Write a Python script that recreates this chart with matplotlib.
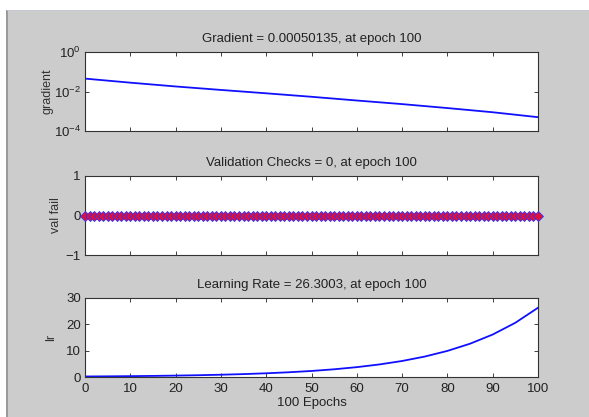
import matplotlib
matplotlib.use("Agg")
import matplotlib.pyplot as plt
from matplotlib.patches import Rectangle
from matplotlib.ticker import FixedLocator, NullLocator

plt.rcParams['font.family'] = ['Liberation Sans', 'DejaVu Sans']

# ---- data ----
grad_epochs = [0, 10, 20, 30, 40, 50, 60, 70, 80, 90, 100]
grad_values = [0.045, 0.028, 0.018, 0.012, 0.0081, 0.0054, 0.0035, 0.0023, 0.00145, 0.00089, 0.00050135]

val_epochs = [0, 1, 2, 3, 4, 5, 6, 7, 8, 9, 10, 11, 12, 13, 14, 15, 16, 17, 18, 19, 20,
              21, 22, 23, 24, 25, 26, 27, 28, 29, 30, 31, 32, 33, 34, 35, 36, 37, 38, 39, 40,
              41, 42, 43, 44, 45, 46, 47, 48, 49, 50, 51, 52, 53, 54, 55, 56, 57, 58, 59, 60,
              61, 62, 63, 64, 65, 66, 67, 68, 69, 70, 71, 72, 73, 74, 75, 76, 77, 78, 79, 80,
              81, 82, 83, 84, 85, 86, 87, 88, 89, 90, 91, 92, 93, 94, 95, 96, 97, 98, 99, 100]
val_fail = [0, 0, 0, 0, 0, 0, 0, 0, 0, 0, 0, 0, 0, 0, 0, 0, 0, 0, 0, 0, 0,
            0, 0, 0, 0, 0, 0, 0, 0, 0, 0, 0, 0, 0, 0, 0, 0, 0, 0, 0, 0,
            0, 0, 0, 0, 0, 0, 0, 0, 0, 0, 0, 0, 0, 0, 0, 0, 0, 0, 0, 0,
            0, 0, 0, 0, 0, 0, 0, 0, 0, 0, 0, 0, 0, 0, 0, 0, 0, 0, 0, 0,
            0, 0, 0, 0, 0, 0, 0, 0, 0, 0, 0, 0, 0, 0, 0, 0, 0, 0, 0, 0]

lr_epochs = [0, 5, 10, 15, 20, 25, 30, 35, 40, 45, 50, 55, 60, 65, 70, 75, 80, 85, 90, 95, 100]
lr_values = [0.20, 0.255, 0.326, 0.416, 0.531, 0.677, 0.864, 1.10, 1.41, 1.80, 2.29,
             2.93, 3.74, 4.77, 6.08, 7.76, 9.91, 12.64, 16.13, 20.59, 26.3003]

x_ticks = [0, 10, 20, 30, 40, 50, 60, 70, 80, 90, 100]

titles = ["Gradient = 0.00050135, at epoch 100",
          "Validation Checks = 0, at epoch 100",
          "Learning Rate = 26.3003, at epoch 100"]
ylabels = ["gradient", "val fail", "lr"]
xlabel = "100 Epochs"

# ---- figure ----
W, H = 589, 417
fig = plt.figure(figsize=(W / 100, H / 100), dpi=100)
fig.patch.set_facecolor("white")
fig.patches.append(Rectangle((7 / W, 0), 1 - 7 / W, 1 - 10 / H, transform=fig.transFigure,
                             facecolor="#cccccc", edgecolor="none", zorder=-10))
fig.patches.append(Rectangle((6 / W, 0), 2 / W, 1 - 10 / H, transform=fig.transFigure,
                             facecolor="#9a9a9a", edgecolor="none", zorder=-9))
fig.patches.append(Rectangle((7 / W, 1 - 11 / H), 1 - 7 / W, 1.5 / H, transform=fig.transFigure,
                             facecolor="#c4c8d4", edgecolor="none", zorder=-9))

left = 85 / W
width = 453 / W
height = 79 / H
bottoms = [1 - 131 / H, 1 - 255 / H, 1 - 377 / H]
axes = [fig.add_axes([left, b, width, height]) for b in bottoms]
ylabel_x = [(53 - 85) / 453, (62 - 85) / 453, (57 - 85) / 453]

fs = 9.5
for ax, t, yl, lx in zip(axes, titles, ylabels, ylabel_x):
    ax.set_facecolor("white")
    ax.set_xlim(0, 100)
    ax.set_xticks(x_ticks)
    ax.tick_params(direction="in", top=True, right=True, length=3, width=0.6,
                   labelsize=fs, colors="#222222", pad=3)
    ax.tick_params(axis="x", pad=4)
    for s in ax.spines.values():
        s.set_linewidth(0.8)
        s.set_color("#333333")
    ax.set_title(t, fontsize=fs, color="#222222", pad=7)
    ax.set_ylabel(yl, fontsize=fs - 0.5, color="#333333")
    ax.yaxis.set_label_coords(lx, 0.5)

# gradient
ax = axes[0]
ax.semilogy(grad_epochs, grad_values, color="#1010ff", lw=1.3)
ax.set_ylim(1e-4, 1e0)
ax.yaxis.set_major_locator(FixedLocator([1e-4, 1e-2, 1e0]))
ax.yaxis.set_minor_locator(NullLocator())
ax.set_xticklabels([])

# val fail
ax = axes[1]
ax.plot(val_epochs, val_fail, color="#1010ff", lw=1.0, marker="D", markersize=4.6,
        markerfacecolor="#e0103a", markeredgecolor="#3030ff", markeredgewidth=0.6, clip_on=False,
        zorder=3)
ax.set_ylim(-1, 1)
ax.set_yticks([-1, 0, 1])
ax.set_xticklabels([])

# learning rate
ax = axes[2]
ax.plot(lr_epochs, lr_values, color="#1010ff", lw=1.3)
ax.set_ylim(0, 30)
ax.set_yticks([0, 10, 20, 30])
ax.set_xlabel(xlabel, fontsize=fs, color="#222222", labelpad=2)

fig.savefig("out.png", dpi=100, facecolor=fig.get_facecolor())
